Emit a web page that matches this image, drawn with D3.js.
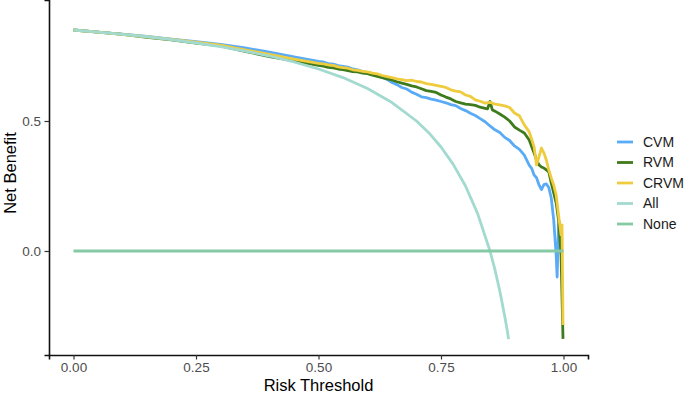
<!DOCTYPE html>
<html>
<head>
<meta charset="utf-8">
<script src="https://cdn.jsdelivr.net/npm/d3@7"></script>
<style>
    body { margin: 0; background: #fff; }
    svg text { font-family: "Liberation Sans", Arial, sans-serif; }
</style>
</head>
<body>
<div id="dca-area"></div>
<script>

// legend / series order
let seriesNames = ['CVM', 'RVM', 'CRVM', 'All', 'None'];

// tick labels
let xTicks = [0, 0.25, 0.5, 0.75, 1.0];
let yTicks = [0, 0.5];

// [risk threshold, net benefit]
let cvmCurve = [
    [0, 0.850], [0.05, 0.842], [0.10, 0.834], [0.15, 0.825], [0.20, 0.815], [0.25, 0.805], [0.30, 0.795],
    [0.35, 0.781], [0.40, 0.765], [0.45, 0.747], [0.50, 0.729], [0.51, 0.727], [0.52, 0.721], [0.53, 0.719],
    [0.54, 0.713], [0.55, 0.710], [0.56, 0.707], [0.57, 0.700], [0.58, 0.697], [0.59, 0.690], [0.60, 0.686],
    [0.61, 0.683], [0.62, 0.674], [0.63, 0.668], [0.64, 0.660], [0.65, 0.648], [0.66, 0.640], [0.67, 0.629],
    [0.68, 0.623], [0.69, 0.611], [0.70, 0.603], [0.71, 0.593], [0.72, 0.590], [0.73, 0.584], [0.74, 0.580],
    [0.75, 0.575], [0.76, 0.570], [0.77, 0.563], [0.78, 0.559], [0.79, 0.548], [0.80, 0.540], [0.81, 0.530],
    [0.82, 0.521], [0.83, 0.509], [0.84, 0.497], [0.85, 0.481], [0.86, 0.466], [0.87, 0.456], [0.88, 0.437],
    [0.89, 0.425], [0.90, 0.404], [0.91, 0.391], [0.92, 0.369], [0.93, 0.330], [0.935, 0.318], [0.94, 0.292],
    [0.945, 0.282], [0.95, 0.254], [0.955, 0.236], [0.96, 0.255], [0.965, 0.258], [0.97, 0.244], [0.975, 0.204],
    [0.98, 0.120], [0.985, -0.015], [0.987, -0.100], [0.99, 0.100], [0.992, 0.112], [0.995, 0.004], [0.998, 0.0]
];

let rvmCurve = [
    [0, 0.850], [0.05, 0.842], [0.10, 0.833], [0.15, 0.822], [0.20, 0.812], [0.25, 0.800], [0.30, 0.789],
    [0.35, 0.768], [0.40, 0.748], [0.45, 0.731], [0.50, 0.714], [0.51, 0.711], [0.52, 0.706], [0.53, 0.704],
    [0.54, 0.700], [0.55, 0.698], [0.56, 0.694], [0.57, 0.690], [0.58, 0.689], [0.59, 0.684], [0.60, 0.682],
    [0.61, 0.676], [0.62, 0.672], [0.63, 0.667], [0.64, 0.662], [0.65, 0.658], [0.66, 0.651], [0.67, 0.646],
    [0.68, 0.641], [0.69, 0.635], [0.70, 0.631], [0.71, 0.624], [0.72, 0.617], [0.73, 0.614], [0.74, 0.610],
    [0.75, 0.600], [0.76, 0.592], [0.77, 0.585], [0.78, 0.575], [0.79, 0.570], [0.80, 0.565], [0.81, 0.563],
    [0.82, 0.560], [0.83, 0.553], [0.84, 0.549], [0.845, 0.547], [0.85, 0.575], [0.855, 0.542], [0.86, 0.538],
    [0.87, 0.527], [0.88, 0.515], [0.89, 0.500], [0.90, 0.477], [0.91, 0.465], [0.92, 0.454], [0.93, 0.427],
    [0.94, 0.377], [0.945, 0.350], [0.95, 0.331], [0.955, 0.323], [0.96, 0.319], [0.965, 0.312], [0.97, 0.304],
    [0.975, 0.262], [0.98, 0.223], [0.985, 0.185], [0.99, 0.119], [0.995, -0.015], [0.999, -0.338]
];

let crvmCurve = [
    [0, 0.850], [0.05, 0.842], [0.10, 0.833], [0.15, 0.824], [0.20, 0.814], [0.25, 0.803], [0.30, 0.792],
    [0.35, 0.774], [0.40, 0.756], [0.45, 0.738], [0.50, 0.722], [0.51, 0.720], [0.52, 0.716], [0.53, 0.714],
    [0.54, 0.708], [0.55, 0.705], [0.56, 0.703], [0.57, 0.697], [0.58, 0.695], [0.59, 0.691], [0.60, 0.689],
    [0.61, 0.684], [0.62, 0.681], [0.63, 0.675], [0.64, 0.671], [0.65, 0.667], [0.66, 0.662], [0.67, 0.659],
    [0.68, 0.655], [0.69, 0.657], [0.70, 0.652], [0.71, 0.650], [0.72, 0.644], [0.73, 0.641], [0.74, 0.637],
    [0.75, 0.633], [0.76, 0.629], [0.77, 0.620], [0.78, 0.615], [0.79, 0.612], [0.80, 0.600], [0.81, 0.595],
    [0.82, 0.581], [0.83, 0.576], [0.84, 0.569], [0.85, 0.572], [0.86, 0.565], [0.87, 0.562], [0.88, 0.558],
    [0.89, 0.552], [0.90, 0.531], [0.91, 0.520], [0.92, 0.485], [0.93, 0.458], [0.935, 0.430], [0.94, 0.400],
    [0.945, 0.331], [0.95, 0.362], [0.955, 0.396], [0.96, 0.377], [0.965, 0.350], [0.97, 0.312], [0.975, 0.281],
    [0.98, 0.254], [0.985, 0.215], [0.99, 0.138], [0.995, 0.062], [0.997, 0.100], [0.999, -0.285]
];

let allCurve = [
    [0, 0.850], [0.05, 0.842], [0.10, 0.833], [0.15, 0.824], [0.20, 0.813], [0.25, 0.800], [0.30, 0.786],
    [0.35, 0.769], [0.40, 0.750], [0.45, 0.727], [0.50, 0.700], [0.55, 0.667], [0.60, 0.625], [0.65, 0.571],
    [0.70, 0.500], [0.725, 0.455], [0.75, 0.400], [0.775, 0.333], [0.80, 0.250], [0.825, 0.143], [0.85, 0.0],
    [0.86, -0.071], [0.87, -0.154], [0.88, -0.250], [0.885, -0.304], [0.888, -0.339]
];

let noneCurve = [[0, 0], [1, 0]];


class DcaChart {

    constructor(parentElement) {
        this.parentElement = parentElement;
        this.initVis();
    }

    initVis() {
        let vis = this;

        vis.margin = {top: 0, right: 97, bottom: 40, left: 49};
        vis.width = 685 - vis.margin.left - vis.margin.right;
        vis.height = 395 - vis.margin.top - vis.margin.bottom;

        vis.svg = d3.select("#" + vis.parentElement).append("svg")
            .attr("width", 685)
            .attr("height", 395)
            .append("g")
            .attr("transform", "translate(" + vis.margin.left + "," + vis.margin.top + ")");

        vis.color = d3.scaleOrdinal()
            .domain(seriesNames)
            .range(['#5AABF6', '#3F7B1C', '#EFCC3D', '#A2DACF', '#86C9A5']);

        vis.x = d3.scaleLinear().domain([-0.05, 1.05]).range([0, vis.width]);
        vis.y = d3.scaleLinear().domain([-0.4, 0.9654]).range([vis.height, 0]);

        vis.data = [
            {name: 'CVM', values: cvmCurve},
            {name: 'RVM', values: rvmCurve},
            {name: 'CRVM', values: crvmCurve},
            {name: 'All', values: allCurve},
            {name: 'None', values: noneCurve}
        ];

        vis.updateVis();
    }

    updateVis() {
        let vis = this;

        let line = d3.line()
            .x(d => vis.x(d[0]))
            .y(d => vis.y(d[1]));

        vis.svg.selectAll(".curve")
            .data(vis.data)
            .enter()
            .append("path")
            .attr("class", "curve")
            .attr("d", d => line(d.values))
            .attr("fill", "none")
            .attr("stroke", d => vis.color(d.name))
            .attr("stroke-width", 2.8)
            .attr("stroke-linejoin", "round");

        // axes
        let xAxis = vis.svg.append("g")
            .attr("transform", "translate(0," + vis.height + ")")
            .call(d3.axisBottom(vis.x)
                .tickValues(xTicks)
                .tickFormat(d3.format(".2f"))
                .tickSizeOuter(0)
                .tickSize(4.5)
                .tickPadding(3));

        let yAxis = vis.svg.append("g")
            .call(d3.axisLeft(vis.y)
                .tickValues(yTicks)
                .tickFormat(d3.format(".1f"))
                .tickSizeOuter(0)
                .tickSize(4.5)
                .tickPadding(3.5));

        [xAxis, yAxis].forEach(function(ax) {
            ax.select(".domain").attr("stroke", "#111").attr("stroke-width", 1.6);
            ax.selectAll(".tick line").attr("stroke", "#333").attr("stroke-width", 1.2);
            ax.selectAll(".tick text")
                .attr("fill", "#4D4D4D")
                .style("font-size", "13.5px")
                .style("font-family", "Liberation Sans, Arial, sans-serif");
        });

        // axis titles
        vis.svg.append("text")
            .attr("x", vis.x(0.5))
            .attr("y", 391)
            .attr("text-anchor", "middle")
            .style("font-size", "16.5px")
            .attr("fill", "#000")
            .text("Risk Threshold");

        vis.svg.append("text")
            .attr("transform", "translate(" + (16 - vis.margin.left) + "," + vis.y(0.3) + ") rotate(-90)")
            .attr("text-anchor", "middle")
            .style("font-size", "16.5px")
            .attr("fill", "#000")
            .text("Net Benefit");

        // legend
        let legend = vis.svg.append("g")
            .attr("transform", "translate(" + (617 - vis.margin.left) + ",142)");

        let items = legend.selectAll(".legend-item")
            .data(seriesNames)
            .enter()
            .append("g")
            .attr("class", "legend-item")
            .attr("transform", (d, i) => "translate(0," + (i * 20.5) + ")");

        items.append("line")
            .attr("x1", 0)
            .attr("x2", 16)
            .attr("stroke", d => vis.color(d))
            .attr("stroke-width", 2.8);

        items.append("text")
            .attr("x", 26)
            .attr("dy", "0.35em")
            .style("font-size", "14px")
            .attr("fill", "#1a1a1a")
            .text(d => d);
    }
}

let dcaChart = new DcaChart("dca-area");

</script>
</body>
</html>
